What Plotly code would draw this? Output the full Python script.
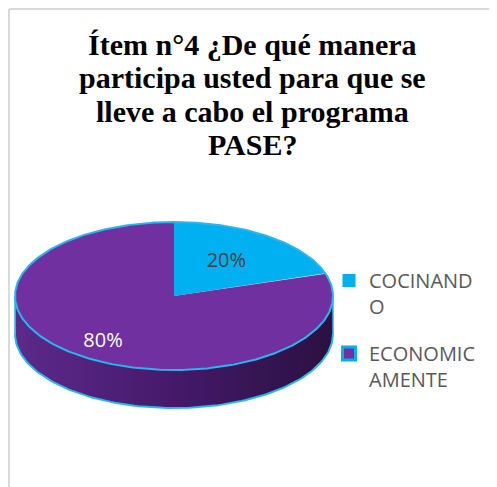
import numpy as np
import plotly.graph_objects as go

# ---- data ----
categories = ["COCINANDO", "ECONOMICAMENTE"]
legend_labels = ["COCINAND<br>O", "ECONOMIC<br>AMENTE"]
values = [20, 80]
colors = ["#00B0F0", "#7030A0"]
label_colors = ["#404040", "#FFFFFF"]
title_lines = ["Ítem n°4 ¿De qué manera", "participa usted para que se",
               "lleve a cabo el programa", "PASE?"]

# ---- geometry (screen pixel space; page body has an 8px margin) ----
OFF = 8
W, H = 497 - OFF, 487 - OFF
cx, cy, a, b, depth = 174, 296, 159, 74, 38
label_r = [0.56, 0.76]


def ell(theta_deg, dy=0.0):
    t = np.radians(theta_deg)
    return cx + a * np.sin(t), cy - b * np.cos(t) + dy


fig = go.Figure()

# side (front half)
th = np.linspace(90, 270, 120)
xs_top, ys_top = ell(th)
xs_bot, ys_bot = ell(th[::-1], depth)
fig.add_trace(go.Scatter(
    x=np.concatenate([xs_top, xs_bot]), y=np.concatenate([ys_top, ys_bot]),
    fill="toself", mode="lines", line=dict(width=0),
    fillgradient=dict(type="horizontal",
                      colorscale=[[0, "#5c2a8b"], [0.5, "#45196a"], [1, "#2a1140"]]),
    hoverinfo="skip", showlegend=False))
xb, yb = ell(th, depth)
fig.add_trace(go.Scatter(x=xb, y=yb, mode="lines",
                         line=dict(color="#29B6EE", width=2),
                         hoverinfo="skip", showlegend=False))
xl, yl = ell(np.array([270, 270]), np.array([0, depth]))
xr, yr = ell(np.array([90, 90]), np.array([0, depth]))
fig.add_trace(go.Scatter(x=np.concatenate([xl, [None], xr]),
                         y=np.concatenate([yl, [None], yr]), mode="lines",
                         line=dict(color="#29B6EE", width=1.5),
                         hoverinfo="skip", showlegend=False))

# top face slices
total = sum(values)
start = 0.0
mids = []
for cat, v, c in zip(categories, values, colors):
    span = 360.0 * v / total
    tt = np.linspace(start, start + span, max(int(span), 2) * 2)
    ex, ey = ell(tt)
    fig.add_trace(go.Scatter(
        x=np.concatenate([[cx], ex, [cx]]), y=np.concatenate([[cy], ey, [cy]]),
        fill="toself", fillcolor=c, mode="lines", line=dict(width=0, color=c),
        name=cat, hoverinfo="name", showlegend=False))
    mids.append(start + span / 2)
    start += span

# top outline
tt = np.linspace(0, 360, 361)
ox, oy = ell(tt)
fig.add_trace(go.Scatter(x=ox, y=oy, mode="lines",
                         line=dict(color="#29B6EE", width=2),
                         hoverinfo="skip", showlegend=False))

# percentage labels
for v, m, lc, r in zip(values, mids, label_colors, label_r):
    t = np.radians(m)
    fig.add_trace(go.Scatter(
        x=[cx + r * a * np.sin(t)], y=[cy - r * b * np.cos(t)],
        mode="text", text=[f"{v}%"],
        textfont=dict(family="Open Sans, Liberation Sans", size=20, color=lc),
        hoverinfo="skip", showlegend=False))

# legend entries
for i, (lab, c) in enumerate(zip(legend_labels, colors)):
    fig.add_trace(go.Scatter(
        x=[None], y=[None], mode="markers", name=lab, legendgroup=f"g{i}",
        marker=dict(symbol="square", size=13, color=c,
                    line=dict(color="#00B0F0", width=3 if i == 1 else 0))))

# title lines as separate annotations (tight line spacing)
baselines = [63, 96, 130, 163]
annotations = [
    dict(text=f"<b>{ln}</b>", xref="paper", yref="paper",
         x=(252 - OFF) / W, y=1 - (bl - OFF) / H, xanchor="center", yanchor="bottom",
         showarrow=False,
         font=dict(family="Liberation Serif", size=30, color="black"))
    for ln, bl in zip(title_lines, baselines)
]

fig.update_layout(
    width=W, height=H,
    margin=dict(l=0, r=0, t=0, b=0),
    paper_bgcolor="white", plot_bgcolor="white",
    xaxis=dict(range=[OFF, OFF + W], visible=False, fixedrange=True),
    yaxis=dict(range=[OFF + H, OFF], visible=False, fixedrange=True),
    annotations=annotations,
    legend=dict(x=(329 - OFF) / W, xanchor="left", y=1 - (261 - OFF) / H, yanchor="top",
                font=dict(family="Open Sans, Liberation Sans", size=20, color="#595959"),
                valign="top", tracegroupgap=18, bgcolor="rgba(0,0,0,0)",
                itemsizing="trace"),
    shapes=[dict(type="line", xref="paper", yref="paper",
                 x0=0.002, y0=0, x1=0.002, y1=0.998,
                 line=dict(color="#D9D9D9", width=2), layer="below"),
            dict(type="line", xref="paper", yref="paper",
                 x0=0.002, y0=0.998, x1=1, y1=0.998,
                 line=dict(color="#D9D9D9", width=2), layer="below")],
    showlegend=True,
)

fig.write_html("out.html")
